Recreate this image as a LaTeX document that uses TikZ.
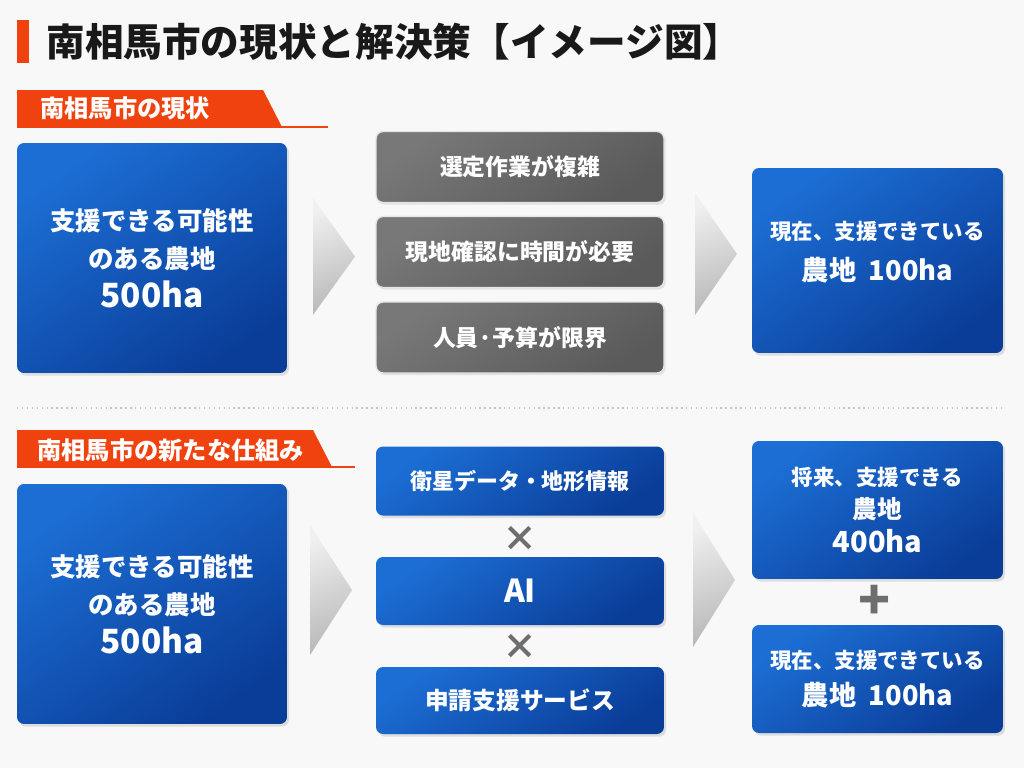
\documentclass[tikz,border=0pt]{standalone}
\usepackage{fontspec}
\setmainfont{Noto Sans CJK JP}
\usetikzlibrary{positioning,shadows}
\definecolor{mhorange}{HTML}{F0420E}
\definecolor{mhbluelt}{HTML}{1C6ED4}
\definecolor{mhbluedk}{HTML}{0A3D98}
\definecolor{mhgraylt}{HTML}{787878}
\definecolor{mhgraydk}{HTML}{5A5A5A}
\definecolor{mhbg}{HTML}{F8F8F8}
\definecolor{mhsign}{HTML}{6E6E6E}

\begin{document}
\begin{tikzpicture}[x=0.02cm, y=-0.02cm,
    farm/.style={rounded corners=4pt, top color=mhbluelt, bottom color=mhbluedk, shading angle=35, text=white, align=center, font=\bfseries\fontsize{14.5pt}{22pt}\selectfont, drop shadow={opacity=0.22, shadow xshift=1.2pt, shadow yshift=-1.5pt}},
    issue/.style={rounded corners=4pt, top color=mhgraylt, bottom color=mhgraydk, shading angle=35, draw=white!80!gray, line width=0.8pt, text=white, align=center, minimum width=5.76cm, minimum height=1.42cm, font=\bfseries\fontsize{13pt}{16pt}\selectfont, drop shadow={opacity=0.18, shadow xshift=1pt, shadow yshift=-1.2pt}},
    tab/.style={text=white, anchor=west, inner sep=0pt, font=\bfseries\fontsize{13.8pt}{16pt}\selectfont},
    chev/.style={top color=white!88!gray, bottom color=gray!55, shading angle=20},
    sign/.style={text=mhsign, font=\bfseries\fontsize{20pt}{24pt}\selectfont}]
  \fill[mhbg] (0,0) rectangle (1024,768);
  \useasboundingbox (0,0) rectangle (1024,768);
  % title
  \fill[mhorange] (17,20) rectangle (29,63);
  \node[anchor=west, inner sep=0pt, text=black!90, font=\bfseries\fontsize{22pt}{26pt}\selectfont] (title) at (46,42) {南相馬市の現状と解決策【イメージ図】};
  % current state
  \fill[mhorange] (17,90) -- (263,90) -- (282,127) -- (17,127) -- cycle;
  \draw[mhorange, line width=1.2pt] (17,127) -- (328,127);
  \node[tab] (tabnow) at (40,108) {南相馬市の現状};
  \node[farm, minimum width=5.4cm, minimum height=4.6cm] (land) at (152,258) {支援できる可能性\\のある農地\\{\fontsize{19pt}{23pt}\selectfont 500ha}};
  \node[issue] (p1) at (520,167) {選定作業が複雑};
  \node[issue] (p2) at (520,252) {現地確認に時間が必要};
  \node[issue] (p3) at (520,337.5) {人員·予算が限界};
  \node[farm, minimum width=5.02cm, minimum height=3.7cm, text depth=11pt, font=\bfseries\fontsize{12.2pt}{23pt}\selectfont] (cur) at (877.5,260.5) {現在、支援できている\\{\fontsize{15.5pt}{23pt}\selectfont 農地\ \ 100ha}};
  \draw[gray!45, dotted, line width=0.8pt] (17,408) -- (1005,408);
  % new scheme
  \fill[mhorange] (17,430) -- (313,430) -- (332,467) -- (17,467) -- cycle;
  \draw[mhorange, line width=1.2pt] (17,467) -- (355,467);
  \node[tab] (tabnew) at (37,450) {南相馬市の新たな仕組み};
  \node[farm, minimum width=5.4cm, minimum height=4.8cm] (land2) at (152,604) {支援できる可能性\\のある農地\\{\fontsize{19pt}{23pt}\selectfont 500ha}};
  \node[farm, minimum width=5.76cm, minimum height=1.38cm, font=\bfseries\fontsize{12.5pt}{16pt}\selectfont] (sat) at (520,481) {衛星データ・地形情報};
  \node[sign] (x1) at (520,539) {×};
  \node[farm, minimum width=5.76cm, minimum height=1.36cm, font=\bfseries\fontsize{18pt}{20pt}\selectfont] (ai) at (520,591) {AI};
  \node[sign] (x2) at (520,647) {×};
  \node[farm, minimum width=5.76cm, minimum height=1.34cm, font=\bfseries\fontsize{13.5pt}{16pt}\selectfont] (svc) at (520,700.5) {申請支援サービス};
  \node[farm, minimum width=5.02cm, minimum height=2.76cm, font=\bfseries\fontsize{12.2pt}{19pt}\selectfont] (fut) at (877.5,510) {将来、支援できる\\{\fontsize{14pt}{17pt}\selectfont 農地}\\{\fontsize{16.5pt}{21pt}\selectfont 400ha}};
  \node[sign, font=\bfseries\fontsize{30pt}{32pt}\selectfont] (plus) at (875,602) {+};
  \node[farm, minimum width=5.02cm, minimum height=2.16cm, font=\bfseries\fontsize{12.2pt}{21pt}\selectfont] (cur2) at (877.5,679) {現在、支援できている\\{\fontsize{15.5pt}{21pt}\selectfont 農地\ \ 100ha}};
  % chevrons
  \foreach \x/\t/\b in {313/198/315, 695/193/315, 310/525/655, 693/513/647} {
    \shade[chev] (\x,\t) -- (\x+42,{(\t+\b)/2}) -- (\x,\b) -- cycle;
  }
\end{tikzpicture}
\end{document}
